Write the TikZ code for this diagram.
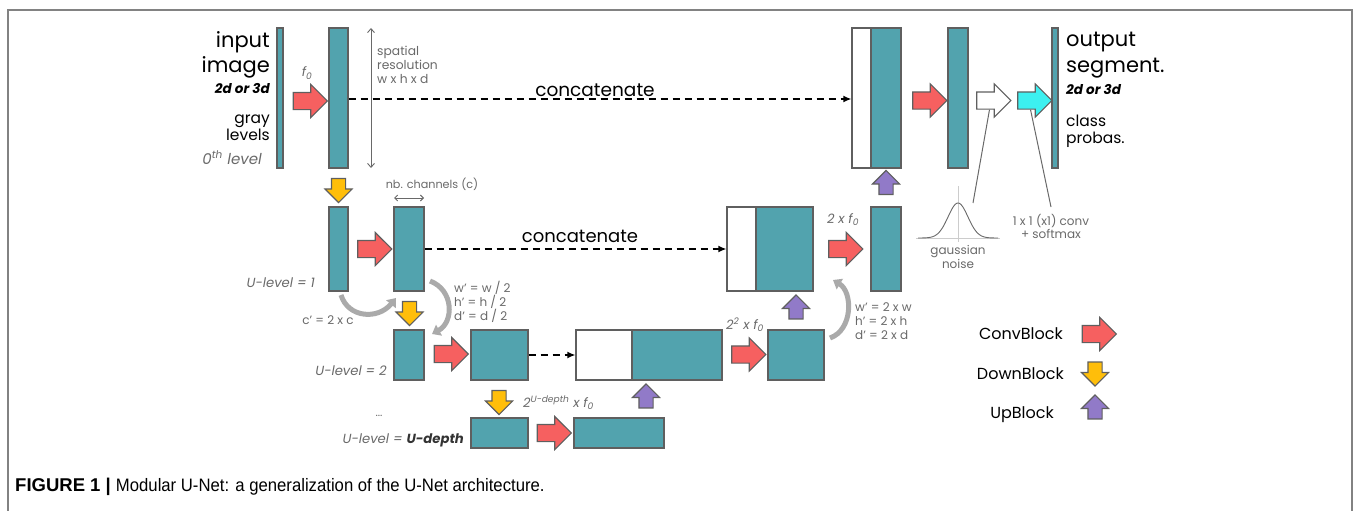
\documentclass[tikz,border=0pt]{standalone}
\usepackage{graphicx}
\usepackage{fontspec}
\setmainfont{Poppins}
\newfontfamily\capfont{Liberation Sans}
\usetikzlibrary{shapes.arrows,arrows.meta}
\definecolor{blockteal}{RGB}{82,163,174}
\definecolor{edgegray}{RGB}{95,95,95}
\definecolor{convred}{RGB}{246,96,96}
\definecolor{downyellow}{RGB}{255,190,10}
\definecolor{uppurple}{RGB}{145,122,200}
\definecolor{outcyan}{RGB}{60,240,240}
\definecolor{txtgray}{RGB}{105,105,105}
\definecolor{curvegray}{RGB}{170,170,170}
\definecolor{framegray}{RGB}{130,130,130}
\newcommand\myfs[1]{\fontsize{#1}{#1}\selectfont}
\tikzset{
  blk/.style={rectangle, draw=edgegray, line width=1.3pt, fill=blockteal, inner sep=0pt},
  wblk/.style={rectangle, draw=edgegray, line width=1.3pt, fill=white, inner sep=0pt},
  harrow/.style={single arrow, draw=edgegray, line width=1.1pt, minimum height=34pt,
    minimum width=0pt, inner xsep=0pt, inner ysep=8pt, single arrow head extend=8pt},
  convarrow/.style={harrow, fill=convred},
  varrow/.style={single arrow, draw=edgegray, line width=1.1pt, minimum height=24pt,
    minimum width=0pt, inner sep=6.5pt, single arrow head extend=6.5pt},
  downblk/.style={varrow, fill=downyellow, shape border rotate=270},
  upblk/.style={varrow, fill=uppurple, shape border rotate=90},
  lbl/.style={inner sep=0pt, text=black},
  glbl/.style={inner sep=0pt, text=txtgray},
  concatline/.style={draw=black, line width=1.4pt, dash pattern=on 7pt off 5pt, -{Latex[length=8pt,width=7pt]}},
  curvearrow/.style={draw=curvegray, line width=5pt, -{Triangle[length=8pt,width=12pt]}},
  thinline/.style={draw=txtgray, line width=1pt},
}
\begin{document}
\begin{tikzpicture}[x=1pt,y=-1pt]
\useasboundingbox (0,0) rectangle (1354,511);
% frame
\draw[framegray, line width=1.6pt] (8,511) -- (8,10) -- (1352,10) -- (1352,511);

% ---------- level 0 ----------
\node[blk, minimum width=6pt, minimum height=140pt] (in0) at (280,98) {};
\node[convarrow] (c0) at (306,101) {};
\node[blk, minimum width=19pt, minimum height=140pt] (b1) at (338.5,98) {};
\node[wblk, minimum width=19pt, minimum height=140pt] (cw0) at (861.5,98) {};
\node[blk, minimum width=30pt, minimum height=140pt] (ct0) at (886,98) {};
\node[convarrow] (c0u) at (925.5,100.5) {};
\node[blk, minimum width=20pt, minimum height=140pt] (bo) at (958,98) {};
\node[harrow, fill=white] (wa) at (989.5,100.5) {};
\node[harrow, fill=outcyan] (ca) at (1030.5,100.5) {};
\node[blk, minimum width=6pt, minimum height=140pt] (out0) at (1055,98) {};

\draw[concatline] (b1.east |- 0,99) -- (cw0.west |- 0,99);
\node[lbl, anchor=base, font=\myfs{18.5}] (cat0) at (595,96) {concatenate};

% spatial resolution
\coordinate (sr1) at (371,28);
\coordinate (sr2) at (371,168);
\draw[draw=txtgray, line width=0.9pt, {Straight Barb[length=4pt,width=7pt]}-{Straight Barb[length=4pt,width=7pt]}] (sr1) -- (sr2);
\node[glbl, anchor=base west, font=\myfs{12.3}] (sp1) at (377,56) {spatial};
\node[glbl, anchor=base west, font=\myfs{12.3}] (sp2) at (377,69.5) {resolution};
\node[glbl, anchor=base west, font=\myfs{12.3}] (sp3) at (377,83) {w x h x d};

% input labels
\node[lbl, anchor=base east, font=\myfs{21}] (tin1) at (270,48) {input};
\node[lbl, anchor=base east, font=\myfs{21}] (tin2) at (270,73) {image};
\node[lbl, anchor=base east, font=\myfs{13.5}\bfseries\itshape] (tin3) at (270,93) {2d or 3d};
\node[lbl, anchor=base east, font=\myfs{15.5}] (tin4) at (270,123) {gray};
\node[lbl, anchor=base east, font=\myfs{15.5}] (tin5) at (270,140) {levels};
\node[glbl, anchor=base east, font=\myfs{15}\itshape] (tin6) at (262,164) {0\textsuperscript{th} level};
\node[glbl, anchor=base, font=\myfs{13}\itshape] (f0) at (307,77) {f\textsubscript{0}};

% output labels
\node[lbl, anchor=base west, font=\myfs{21}] (tout1) at (1066,47) {output};
\node[lbl, anchor=base west, font=\myfs{21}] (tout2) at (1066,72) {segment.};
\node[lbl, anchor=base west, font=\myfs{13.5}\bfseries\itshape] (tout3) at (1066,94) {2d or 3d};
\node[lbl, anchor=base west, font=\myfs{15.5}] (tout4) at (1066,126) {class};
\node[lbl, anchor=base west, font=\myfs{15.5}] (tout5) at (1066,143) {probas.};

% gaussian noise & softmax annotations
\coordinate (gn) at (973,203);
\coordinate (sm) at (1051,207);
\draw[thinline] (wa.south) -- (gn);
\draw[thinline] (ca.south) -- (sm);
\draw[draw=gray!40, line width=0.8pt] (958,186) -- (958,242);
\draw[draw=gray!40, line width=0.8pt] (916,238) -- (1000,238);
\draw[draw=txtgray, line width=0.9pt] plot[domain=-40:40, samples=81, smooth] ({958+\x}, {238-35*exp(-(\x*\x)/196)});
\node[glbl, anchor=base, font=\myfs{12}] (gs1) at (958,254) {gaussian};
\node[glbl, anchor=base, font=\myfs{12}] (gs2) at (958,268) {noise};
\node[glbl, anchor=base, font=\myfs{12}] (sf1) at (1051,225) {1 x 1 (x1) conv};
\node[glbl, anchor=base, font=\myfs{12}] (sf2) at (1051,238) {+ softmax};

% ---------- level 1 ----------
\node[downblk] (d0) at (338.5,187) {};
\node[upblk] (u0) at (886,186) {};
\node[blk, minimum width=19pt, minimum height=84pt] (l1a) at (338.5,249) {};
\node[convarrow] (c1) at (370.5,249) {};
\node[blk, minimum width=30pt, minimum height=84pt] (l1b) at (409,249) {};
\node[wblk, minimum width=29pt, minimum height=84pt] (cw1) at (741.5,249) {};
\node[blk, minimum width=57pt, minimum height=84pt] (ct1) at (784.5,249) {};
\node[convarrow] (c1u) at (841.5,249) {};
\node[blk, minimum width=30pt, minimum height=84pt] (l1u) at (886,249) {};
\draw[concatline] (l1b.east) -- (cw1.west);
\node[lbl, anchor=base, font=\myfs{18}] (cat1) at (580,242) {concatenate};

\node[glbl, anchor=base, font=\myfs{11.2}] (nbc) at (432,188) {nb. channels (c)};
\coordinate (nb1) at (394,198);
\coordinate (nb2) at (424,198);
\draw[draw=txtgray, line width=0.9pt, {Straight Barb[length=3pt,width=6pt]}-{Straight Barb[length=3pt,width=6pt]}] (nb1) -- (nb2);
\node[glbl, anchor=base east, font=\myfs{13.2}\itshape] (ul1) at (315,287) {U-level = 1};
\node[glbl, anchor=base, font=\myfs{12}] (cc) at (328,324) {c' = 2 x c};
\node[glbl, anchor=base, font=\myfs{13}\itshape] (f1) at (843,223) {2 x f\textsubscript{0}};

% curved arrows
\coordinate (ca1s) at (341,295);
\coordinate (ca1e) at (396,298);
\draw[curvearrow] (ca1s) .. controls (348,318) and (378,320) .. (ca1e);
\coordinate (ca2s) at (430,281);
\coordinate (ca2e) at (432,334);
\draw[curvearrow] (ca2s) .. controls (454,290) and (454,322) .. (ca2e);
\coordinate (ca3s) at (830,338);
\coordinate (ca3e) at (833,280);
\draw[curvearrow] (ca3s) .. controls (853,330) and (853,292) .. (ca3e);
\node[glbl, anchor=base west, font=\myfs{12}] (wh1) at (454,292) {w' = w / 2};
\node[glbl, anchor=base west, font=\myfs{12}] (wh2) at (454,306) {h' = h / 2};
\node[glbl, anchor=base west, font=\myfs{12}] (wh3) at (454,320) {d' = d / 2};
\node[glbl, anchor=base west, font=\myfs{12}] (wd1) at (855,311) {w' = 2 x w};
\node[glbl, anchor=base west, font=\myfs{12}] (wd2) at (855,325) {h' = 2 x h};
\node[glbl, anchor=base west, font=\myfs{12}] (wd3) at (855,339) {d' = 2 x d};

% ---------- level 2 ----------
\node[downblk] (d1) at (409.5,310) {};
\node[upblk] (u1) at (796,310.5) {};
\node[blk, minimum width=30pt, minimum height=50pt] (l2a) at (409,355) {};
\node[convarrow] (c2) at (447,354) {};
\node[blk, minimum width=57pt, minimum height=50pt] (l2b) at (499.5,355) {};
\node[wblk, minimum width=56pt, minimum height=50pt] (cw2) at (604,355) {};
\node[blk, minimum width=90pt, minimum height=50pt] (ct2) at (677,355) {};
\node[convarrow] (c2u) at (744.5,354.5) {};
\node[blk, minimum width=56pt, minimum height=50pt] (l2u) at (796,355) {};
\draw[concatline] (l2b.east) -- (cw2.west);
\node[glbl, anchor=base east, font=\myfs{13.2}\itshape] (ul2) at (387,375) {U-level = 2};
\node[glbl, anchor=base, font=\myfs{13}\itshape] (f2) at (745,329) {2\textsuperscript{2} x f\textsubscript{0}};

% ---------- level U-depth ----------
\node[downblk] (d2) at (499,399) {};
\node[upblk] (u2) at (646,399.5) {};
\node[blk, minimum width=57pt, minimum height=30pt] (l3a) at (499.5,433) {};
\node[convarrow] (c3) at (550,433) {};
\node[blk, minimum width=90pt, minimum height=30pt] (l3b) at (619,433) {};
\node[glbl, anchor=base, font=\myfs{11}] (dots) at (379,416) {...};
\node[glbl, anchor=base east, font=\myfs{13.2}\itshape] (ul3) at (464,443) {U-level = \textcolor{black!80}{\bfseries U-depth}};
\node[glbl, anchor=base west, font=\myfs{13}\itshape] (f3) at (523,407) {2\textsuperscript{U-depth} x f\textsubscript{0}};

% ---------- legend ----------
\node[convarrow] (lc) at (1095,334) {};
\node[downblk] (ld) at (1095,370.5) {};
\node[upblk] (lu) at (1095,410.5) {};
\node[lbl, anchor=base east, font=\myfs{16}] (lct) at (1063,339) {ConvBlock};
\node[lbl, anchor=base east, font=\myfs{16}] (ldt) at (1064,379) {DownBlock};
\node[lbl, anchor=base east, font=\myfs{16}] (lut) at (1054,418) {UpBlock};

% ---------- caption ----------
\node[lbl, anchor=base west, font=\capfont] (cap) at (15,491) {\myfs{18.5}\textbf{FIGURE 1 |} \scalebox{0.928}[1]{\myfs{18}Modular U-Net: a generalization of the U-Net architecture.}};
\end{tikzpicture}
\end{document}
